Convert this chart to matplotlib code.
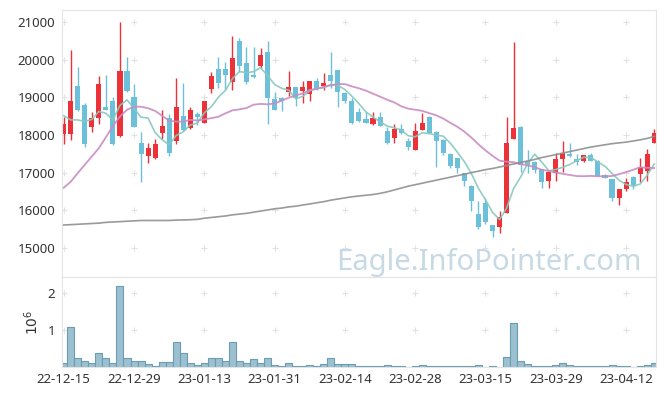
import matplotlib
matplotlib.use("Agg")
import matplotlib.pyplot as plt
import numpy as np
import pandas as pd


# Trading calendar (KRX holidays taken out of the business days)
HOLIDAYS = ["2022-12-30", "2023-01-23", "2023-01-24", "2023-03-01"]
dates = pd.bdate_range("2022-12-15", "2023-04-18")
dates = dates[~dates.isin(pd.to_datetime(HOLIDAYS))]

opens = [
    18030, 18030, 19300, 18800, 18200, 18440, 18750, 18900, 17980, 19700,
    19000, 17780, 17430, 17380, 18050, 18460, 17830, 18500, 18180, 18570,
    18330, 19220, 19750, 19750, 19400, 20500, 19920, 19590, 19840, 20210,
    18960, 18990, 19150, 19270, 19180, 19090, 19430, 19290, 19590, 19730,
    19120, 18910, 18610, 18430, 18290, 18470, 18110, 17920, 18150, 17840,
    17610, 18140, 18490, 18090, 17870, 17500, 17380, 16990, 16650, 15910,
    16190, 15600, 15570, 15940, 17890, 18220, 17310, 17290, 17090, 16790,
    16990, 17360, 17490, 17360, 17300, 17470, 17320, 16940, 16830, 16320,
    16560, 16880, 16960, 17050, 17780,
]
highs = [
    18490, 20260, 19800, 18860, 18600, 19570, 19590, 19000, 21000, 20080,
    19340, 18090, 17800, 17890, 18670, 18550, 19500, 19380, 18750, 18600,
    18910, 19660, 20080, 19950, 20640, 20580, 20340, 20340, 20300, 20500,
    19130, 19020, 19700, 19270, 19430, 19440, 19520, 19640, 20200, 19730,
    19130, 18980, 18710, 18620, 18620, 18620, 18220, 18290, 18290, 17920,
    18330, 18580, 18500, 18100, 17880, 17510, 17390, 17000, 16660, 16260,
    16320, 15600, 15970, 18470, 20480, 18230, 17590, 17300, 17100, 17040,
    17530, 17850, 17780, 17500, 17480, 17530, 17330, 16960, 16830, 16570,
    16850, 16920, 17380, 17620, 18150,
]
lows = [
    17760, 17870, 18640, 17690, 18090, 18290, 18660, 17740, 17940, 19140,
    18200, 16740, 17250, 17370, 17900, 17430, 17760, 18110, 18160, 18270,
    18320, 19110, 19240, 19200, 19200, 19680, 19340, 19520, 19770, 18290,
    18650, 18640, 19040, 18760, 18840, 18900, 19200, 19200, 19260, 18750,
    18850, 18290, 18350, 18320, 18270, 18240, 17760, 17780, 18020, 17590,
    17600, 18130, 18040, 17160, 17470, 17120, 17000, 16650, 15970, 15510,
    15640, 15290, 15400, 15940, 17880, 17030, 17000, 16990, 16590, 16600,
    16790, 17030, 17420, 17210, 17290, 17300, 16910, 16860, 16260, 16150,
    16500, 16560, 16760, 16780, 17780,
]
closes = [
    18290, 18910, 18650, 17760, 18450, 19350, 18670, 17760, 19700, 19180,
    18220, 17490, 17660, 17760, 18240, 17530, 18750, 18140, 18670, 18480,
    18900, 19570, 19390, 19580, 20040, 19840, 19410, 19530, 20110, 18980,
    18670, 18910, 19270, 18990, 19270, 19430, 19220, 19370, 19420, 19130,
    18890, 18330, 18380, 18330, 18450, 18250, 17780, 18150, 18050, 17670,
    18110, 18310, 18050, 17840, 17530, 17180, 17120, 16780, 16260, 15570,
    15680, 15440, 15820, 17780, 18180, 17210, 17210, 17070, 16740, 17030,
    17360, 17520, 17430, 17270, 17470, 17320, 16920, 16870, 16320, 16560,
    16760, 16680, 17160, 17500, 18050,
]
# volume in millions of shares
volumes = [
    0.11, 1.09, 0.24, 0.18, 0.11, 0.38, 0.24, 0.11, 2.18, 0.26,
    0.16, 0.18, 0.08, 0.03, 0.14, 0.14, 0.67, 0.38, 0.11, 0.05,
    0.11, 0.26, 0.24, 0.16, 0.67, 0.18, 0.11, 0.21, 0.11, 0.24,
    0.05, 0.03, 0.11, 0.03, 0.03, 0.05, 0.03, 0.08, 0.26, 0.08,
    0.08, 0.08, 0.03, 0.03, 0.03, 0.03, 0.05, 0.03, 0.03, 0.01,
    0.03, 0.05, 0.03, 0.03, 0.03, 0.03, 0.03, 0.03, 0.03, 0.05,
    0.01, 0.03, 0.01, 0.27, 1.20, 0.16, 0.08, 0.03, 0.03, 0.03,
    0.05, 0.11, 0.05, 0.03, 0.03, 0.03, 0.03, 0.03, 0.05, 0.03,
    0.03, 0.01, 0.03, 0.05, 0.11,
]
# moving-average values before enough closes are on the chart
ma5_head = [18510, 18400, 18400, 18360]
ma20_head = [
    16600, 16760, 16990, 17210, 17430, 17650, 17940, 18240, 18490, 18670,
    18750, 18750, 18710, 18640, 18510, 18380, 18355, 18355, 18400,
]
ma120 = [
    15610, 15620, 15630, 15640, 15650, 15660, 15680, 15690, 15700, 15710,
    15720, 15730, 15730, 15730, 15730, 15730, 15740, 15745, 15750, 15760,
    15790, 15810, 15830, 15850, 15880, 15900, 15920, 15950, 15980, 16010,
    16040, 16060, 16090, 16110, 16140, 16170, 16200, 16230, 16270, 16300,
    16330, 16360, 16380, 16400, 16420, 16450, 16490, 16540, 16590, 16640,
    16680, 16720, 16760, 16800, 16840, 16880, 16920, 16960, 17000, 17040,
    17080, 17110, 17150, 17190, 17230, 17270, 17310, 17350, 17400, 17440,
    17480, 17520, 17560, 17600, 17640, 17680, 17710, 17740, 17770, 17790,
    17810, 17840, 17870, 17910, 17960,
]

RED = "#ec3238"
BLUE = "#6cc0da"
GRID = "#e2e2e2"
SPINE = "#e4e4e4"
TEXT = "#333333"

plt.rcParams["font.family"] = ["Noto Sans", "DejaVu Sans"]

close_s = pd.Series(closes, dtype=float)
ma5 = close_s.rolling(5).mean().to_numpy()
ma5[: len(ma5_head)] = ma5_head
ma20 = close_s.rolling(20).mean().to_numpy()
ma20[: len(ma20_head)] = ma20_head

o = np.array(opens)
c = np.array(closes)
x = np.arange(len(c))
colors = np.where(c >= o, RED, BLUE)

fig = plt.figure(figsize=(6.65, 3.96), dpi=100)
ax = fig.add_axes([0.0932, 0.3005, 0.8932, 0.6745])
axv = fig.add_axes([0.0932, 0.0725, 0.8932, 0.228], sharex=ax)

# candles
ax.vlines(x, lows, highs, colors=colors, linewidth=1.0, zorder=2)
ax.bar(x, np.abs(c - o), bottom=np.minimum(o, c), width=0.72,
       color=colors, linewidth=0, zorder=2)

# moving averages
ax.plot(x, ma5, color="#86c9bd", linewidth=1.2, alpha=0.9, zorder=3)
ax.plot(x, ma20, color="#c98bc3", linewidth=1.3, alpha=0.9, zorder=3)
ax.plot(x, ma120, color="#8f8f8f", linewidth=1.2, alpha=0.9, zorder=3)

# volume
axv.bar(x, volumes, width=1.0, color="#9cc0d0", edgecolor="#6a9cb4",
        linewidth=0.8, zorder=2)

price_ticks = np.arange(15000, 21001, 1000)
vol_ticks = [1, 2]
date_ticks = np.arange(0, len(x), 10)

ax.set_xlim(-0.25, 84.25)
ax.set_ylim(14230, 21320)
axv.set_ylim(0, 2.42)

ax.set_yticks(price_ticks)
ax.set_yticklabels([str(t) for t in price_ticks])
axv.set_yticks(vol_ticks)
axv.set_yticklabels([str(t) for t in vol_ticks])
axv.set_xticks(date_ticks)
axv.set_xticklabels([dates[i].strftime("%y-%m-%d") for i in date_ticks])
axv.set_ylabel("$10^6$", fontsize=10, color=TEXT, labelpad=4)

# grid crosses instead of grid lines
gx, gy = np.meshgrid(date_ticks, price_ticks)
ax.plot(gx.ravel(), gy.ravel(), "+", color=GRID, markersize=4,
        markeredgewidth=0.8, zorder=1)
gx, gy = np.meshgrid(date_ticks, vol_ticks)
axv.plot(gx.ravel(), gy.ravel(), "+", color=GRID, markersize=4,
         markeredgewidth=0.8, zorder=1)

for a in (ax, axv):
    a.tick_params(length=0, labelsize=9.5, colors=TEXT, pad=5)
    for spine in a.spines.values():
        spine.set_color(SPINE)
ax.tick_params(axis="x", labelbottom=False)
axv.tick_params(axis="x", pad=4)

ax.text(0.975, 0.026, "Eagle.InfoPointer.com", transform=ax.transAxes,
        ha="right", va="baseline", fontsize=21, color="#c6d9e4", zorder=1)

fig.savefig("out.png", dpi=100)
